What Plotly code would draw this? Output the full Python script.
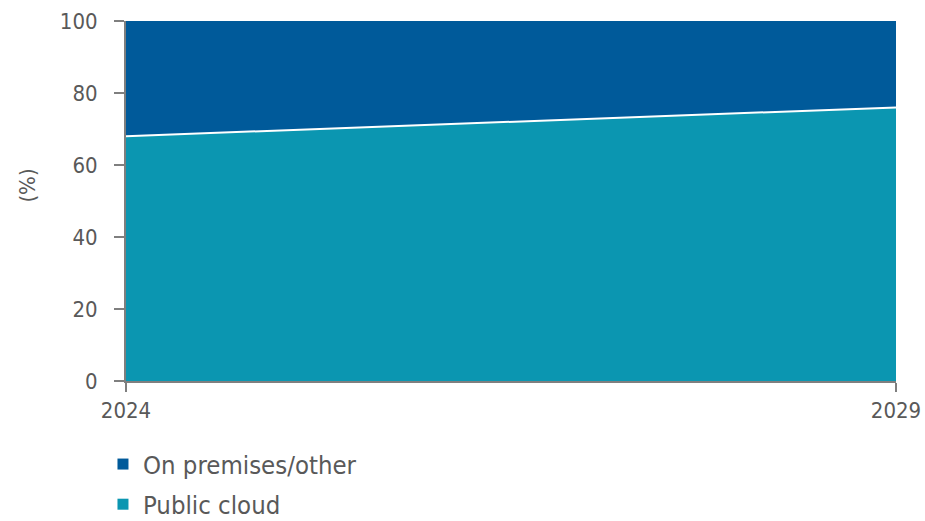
import plotly.graph_objects as go

years = [2024, 2029]
public_cloud = [68, 76]
on_premises = [32, 24]
y_ticks = [0, 20, 40, 60, 80, 100]

dark_blue = "#005A9A"
teal = "#0B96B1"
axis_col = "#7f7f7f"
text_col = "#595959"
font_fam = "DejaVu Sans Condensed, DejaVu Sans, sans-serif"

fig = go.Figure()
fig.add_trace(go.Scatter(x=years, y=public_cloud, name="Public cloud", stackgroup="one",
                         mode="none", fillcolor=teal, line=dict(width=0), showlegend=False))
fig.add_trace(go.Scatter(x=years, y=on_premises, name="On premises/other", stackgroup="one",
                         mode="none", fillcolor=dark_blue, line=dict(width=0), showlegend=False))
fig.add_trace(go.Scatter(x=years, y=public_cloud, mode="lines", showlegend=False,
                         line=dict(color="white", width=2), hoverinfo="skip"))
# legend entries (square markers)
fig.add_trace(go.Scatter(x=[None], y=[None], mode="markers", name="On premises/other",
                         legendgroup="a",
                         marker=dict(symbol="square", size=11, color=dark_blue)))
fig.add_trace(go.Scatter(x=[None], y=[None], mode="markers", name="Public cloud",
                         legendgroup="b",
                         marker=dict(symbol="square", size=11, color=teal)))

fig.update_layout(
    width=925, height=521,
    margin=dict(l=126, r=29, t=21, b=140),
    plot_bgcolor="white", paper_bgcolor="white",
    font=dict(family=font_fam, size=22, color=text_col),
    showlegend=True,
    legend=dict(orientation="v", xref="paper", yref="container",
                x=-0.0299, xanchor="left", y=0.1536, yanchor="top",
                traceorder="grouped", font=dict(size=25.5, color=text_col),
                tracegroupgap=4, itemwidth=30),
    annotations=[dict(text="(%)", xref="paper", yref="paper", x=-0.128, y=0.544,
                      textangle=-90, showarrow=False, xanchor="center", yanchor="middle",
                      font=dict(size=22, color=text_col))],
)
fig.update_xaxes(range=[2024, 2029], tickvals=years, ticktext=[str(y) for y in years],
                 showgrid=False, showline=True, linecolor=axis_col, linewidth=2,
                 ticks="outside", ticklen=9, tickcolor=axis_col, tickwidth=2, zeroline=False,
                 automargin=False, tickfont=dict(size=22))
fig.update_yaxes(range=[0, 100], tickvals=y_ticks, showgrid=True, gridcolor="#dcdcdc",
                 gridwidth=1, showline=True,
                 linecolor=axis_col, linewidth=2, ticks="outside", ticklen=10,
                 tickcolor=axis_col, tickwidth=2, zeroline=False, automargin=False,
                 ticklabelstandoff=12, tickfont=dict(size=22))

fig.write_html("out.html", config={"displayModeBar": False},
               post_script="document.body.style.margin='0';document.body.style.overflow='hidden';")
